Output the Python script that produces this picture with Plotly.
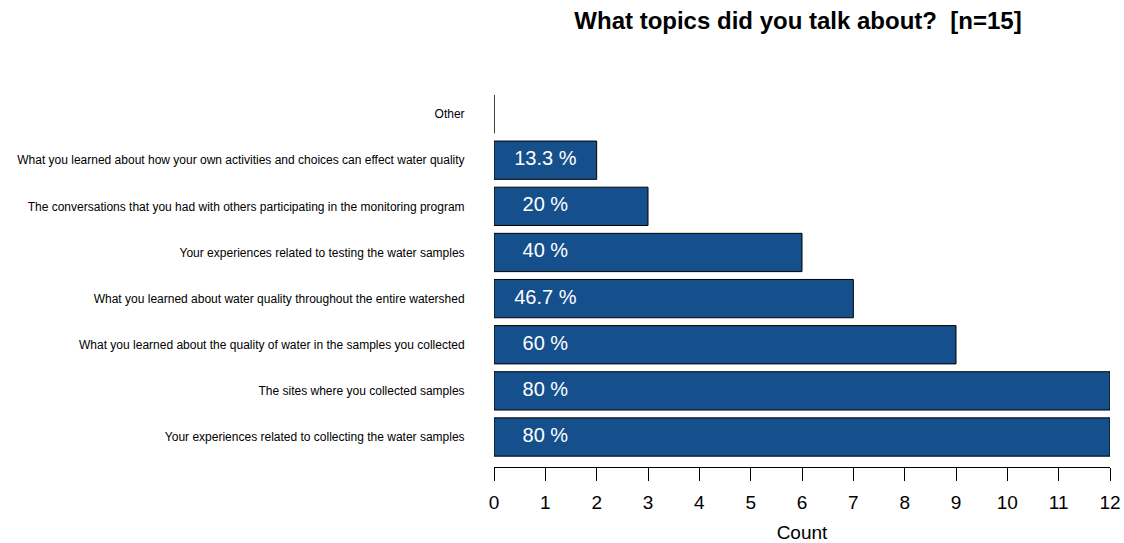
import plotly.graph_objects as go

categories = [
    "Your experiences related to collecting the water samples",
    "The sites where you collected samples",
    "What you learned about the quality of water in the samples you collected",
    "What you learned about water quality throughout the entire watershed",
    "Your experiences related to testing the water samples",
    "The conversations that you had with others participating in the monitoring program",
    "What you learned about how your own activities and choices can effect water quality",
    "Other",
]
counts = [12, 12, 9, 7, 6, 3, 2, 0]
pct_labels = ["80 %", "80 %", "60 %", "46.7 %", "40 %", "20 %", "13.3 %", ""]
x_ticks = list(range(0, 13))

W, H = 1124, 543

fig = go.Figure()
fig.add_trace(go.Bar(
    y=categories, x=counts, orientation="h",
    marker=dict(color="#15508D", line=dict(color="#000000", width=1)),
    width=0.83, hoverinfo="skip",
))
fig.add_trace(go.Scatter(
    y=categories, x=[1] * len(categories), mode="text", text=pct_labels,
    textfont=dict(color="white", size=20, family="Liberation Sans, Arial"),
    textposition="middle center", hoverinfo="skip",
))

fig.update_layout(
    width=W, height=H,
    margin=dict(l=494, r=14, t=91, b=76),
    paper_bgcolor="white", plot_bgcolor="white",
    showlegend=False,
    font=dict(family="Liberation Sans, Arial", color="black"),
    title=dict(
        text="<b>What topics did you talk about?\u00a0\u00a0[n=15]</b>",
        x=798 / W, xanchor="center",
        y=1 - 21 / H, yanchor="middle",
        font=dict(size=24, family="Liberation Sans, Arial", color="black"),
    ),
    xaxis=dict(
        range=[0, 12], tickmode="array", tickvals=x_ticks,
        ticktext=[str(v) for v in x_ticks],
        showgrid=False, zeroline=False, automargin=False,
        showline=True, linecolor="black", linewidth=1,
        ticks="outside", ticklen=13, tickcolor="black", tickwidth=1,
        ticklabelstandoff=5,
        tickfont=dict(size=19),
        title=dict(text="Count", font=dict(size=19), standoff=16),
    ),
    yaxis=dict(
        categoryorder="array", categoryarray=categories,
        range=[-0.65, 7.5], automargin=False,
        showgrid=False, zeroline=False, showline=False,
        ticks="outside", ticklen=26, tickcolor="rgba(0,0,0,0)",
        tickfont=dict(size=12),
    ),
)

fig.write_html(
    "out.html",
    config={"displayModeBar": False},
    post_script="document.body.style.margin='0';document.body.style.overflow='hidden';",
)
